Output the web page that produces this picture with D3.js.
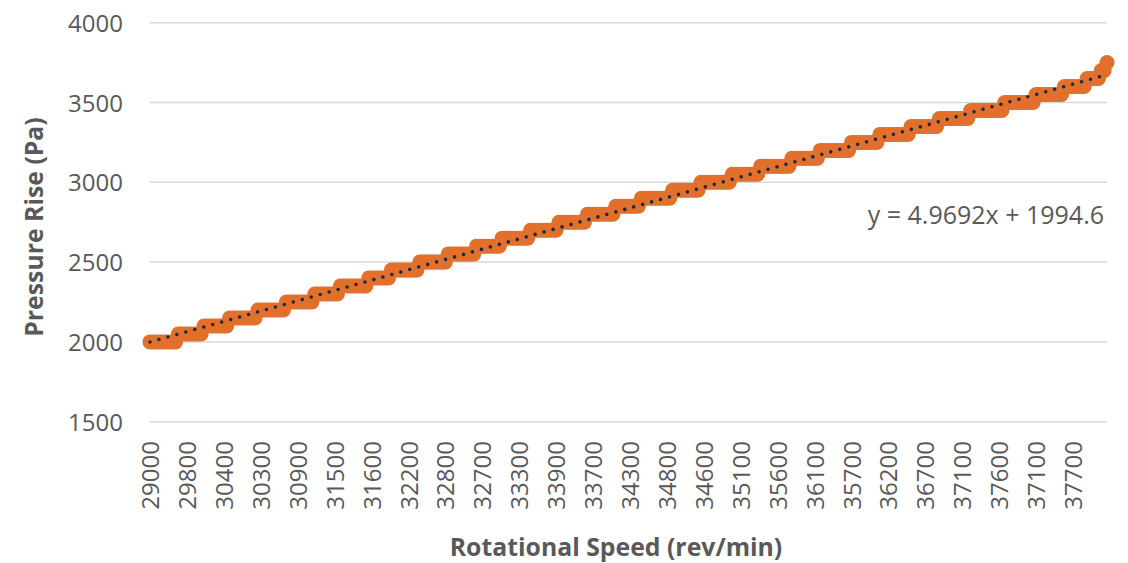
<!DOCTYPE html>
<html>
<head>
<meta charset="utf-8">
<script src="https://cdn.jsdelivr.net/npm/d3@7"></script>
<style>
  html, body { margin: 0; padding: 0; background: #ffffff; }
  svg { display: block; }
  text { font-family: "Open Sans", "Liberation Sans", Arial, sans-serif; fill: #595959; }
</style>
</head>
<body>
<svg id="chart" width="1128" height="563"></svg>
<script>
// Pressure levels (Pa) held by consecutive runs of measurements, in order
const pressureLevels = [
  2000, 2050, 2100, 2150, 2200, 2250, 2300, 2350, 2400, 2450,
  2500, 2550, 2600, 2650, 2700, 2750, 2800, 2850, 2900, 2950,
  3000, 3050, 3100, 3150, 3200, 3250, 3300, 3350, 3400, 3450,
  3500, 3550, 3600, 3650, 3700, 3750
];
// Number of consecutive measurements at each pressure level
const pointsPerLevel = [
  10, 9, 9, 10, 10, 10, 9, 10, 8, 10,
  10, 10, 9, 10, 10, 10, 10, 9, 11, 10,
  11, 10, 11, 10, 11, 10, 11, 10, 11, 12,
  11, 10, 8, 5, 2, 1
];
// Rotational speed labels shown on the category axis (every 13th category)
const speedTickLabels = [
  29000, 29800, 30400, 30300, 30900, 31500, 31600, 32200, 32800, 32700,
  33300, 33900, 33700, 34300, 34800, 34600, 35100, 35600, 36100, 35700,
  36200, 36700, 37100, 37600, 37100, 37700
];
const labelInterval = 13;
// Linear trendline (category index x, starting at 1)
const trendSlope = 4.9692;
const trendIntercept = 1994.6;
const yTicks = [1500, 2000, 2500, 3000, 3500, 4000];

// Expand the runs into the measurement series
const pressure = [];
pressureLevels.forEach((p, i) => {
  for (let k = 0; k < pointsPerLevel[i]; k++) pressure.push(p);
});
const n = pressure.length;

const svg = d3.select("#chart");
const plotLeft = 150, plotRight = 1107, plotTop = 22.7, plotBottom = 421.7;
const labelFont = "24px";

const x = d3.scaleLinear().domain([0, n - 1]).range([plotLeft, plotRight]);
const y = d3.scaleLinear().domain([1500, 4000]).range([plotBottom, plotTop]);

// Horizontal gridlines
svg.append("g")
  .selectAll("line")
  .data(yTicks)
  .join("line")
  .attr("x1", plotLeft).attr("x2", plotRight)
  .attr("y1", d => y(d)).attr("y2", d => y(d))
  .attr("stroke", "#d9d9d9")
  .attr("stroke-width", 1.5);

// Y axis labels
const yAxis = d3.axisLeft(y).tickValues(yTicks).tickFormat(d3.format("d"))
  .tickSize(0).tickPadding(0);
const gy = svg.append("g").attr("transform", `translate(123,0)`).call(yAxis);
gy.select(".domain").remove();
gy.selectAll("text")
  .style("font-size", labelFont)
  .attr("fill", "#595959")
  .attr("dy", "0.36em");

// X axis category labels, rotated
const tickIdx = speedTickLabels.map((_, i) => i * labelInterval);
const xAxis = d3.axisBottom(x)
  .tickValues(tickIdx)
  .tickFormat((d, i) => speedTickLabels[i])
  .tickSize(0);
const gx = svg.append("g").attr("transform", `translate(0,441)`).call(xAxis);
gx.select(".domain").remove();
gx.selectAll("text")
  .style("font-size", labelFont)
  .attr("fill", "#595959")
  .attr("transform", "rotate(-90)")
  .attr("text-anchor", "end")
  .attr("x", 0)
  .attr("y", 0)
  .attr("dx", 0)
  .attr("dy", "0.36em");
svg.selectAll(".tick text").attr("font-family", null).attr("font-size", null);

// Measurement markers
svg.append("g")
  .selectAll("circle")
  .data(pressure)
  .join("circle")
  .attr("cx", (d, i) => x(i))
  .attr("cy", d => y(d))
  .attr("r", 7.5)
  .attr("fill", "#E2702B");

// Dotted linear trendline
const trendLine = d3.line()
  .x(d => x(d))
  .y(d => y(trendSlope * (d + 1) + trendIntercept));
svg.append("path")
  .datum([0, n - 1])
  .attr("d", trendLine)
  .attr("fill", "none")
  .attr("stroke", "#1B2A41")
  .attr("stroke-width", 3.6)
  .attr("stroke-linecap", "round")
  .attr("stroke-dasharray", "0 9.3");

// Trendline equation
svg.append("text")
  .attr("x", 1104)
  .attr("y", 215)
  .attr("text-anchor", "end")
  .attr("dy", "0.36em")
  .style("font-size", "25px")
  .text(`y = ${trendSlope}x + ${trendIntercept}`);

// Axis titles
svg.append("text")
  .attr("transform", `translate(43,227) rotate(-90)`)
  .attr("text-anchor", "middle")
  .style("font-size", "24.8px")
  .style("font-weight", "bold")
  .text("Pressure Rise (Pa)");

svg.append("text")
  .attr("x", 616)
  .attr("y", 556)
  .attr("text-anchor", "middle")
  .style("font-size", "24.8px")
  .style("font-weight", "bold")
  .text("Rotational Speed (rev/min)");
</script>
</body>
</html>
